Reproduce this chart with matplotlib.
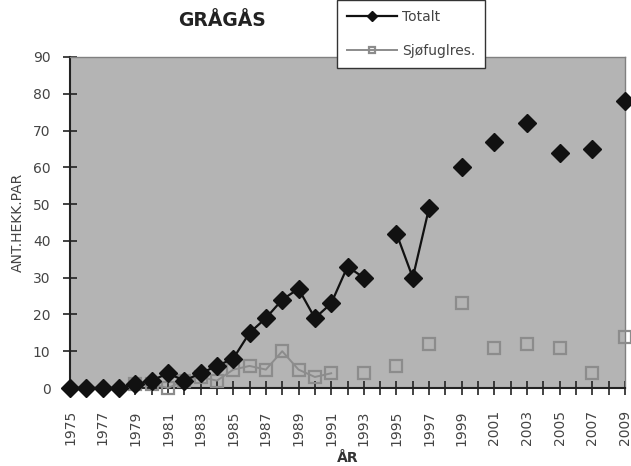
import numpy as np
import matplotlib
matplotlib.use("Agg")
import matplotlib.pyplot as plt
from matplotlib.ticker import MultipleLocator

plt.rcParams['font.family'] = ['DejaVu Sans']

nan = np.nan
years = list(range(1975, 2010))
totalt = [0, 0, 0, 0, 1, 2, 4, 2, 4, 6, 8, 15, 19, 24, 27, 19, 23, 33, 30, nan,
          42, 30, 49, nan, 60, nan, 67, nan, 72, nan, 64, nan, 65, nan, 78]
sjofugl = [nan, nan, nan, nan, 1, 1, 0, 2, 3, 2, 5, 6, 5, 10, 5, 3, 4, nan, 4, nan,
           6, nan, 12, nan, 23, nan, 11, nan, 12, nan, 11, nan, 4, nan, 14]

fig = plt.figure(figsize=(6.31, 4.66), dpi=100)
ax = fig.add_axes([70/631, 1-388/466, 555/631, 331/466])
ax.set_facecolor('#b4b4b4')

l1, = ax.plot(years, totalt, color='#111111', lw=1.6, marker='D', ms=9.5,
              mfc='#111111', mec='#111111', clip_on=False, zorder=4, label='Totalt')
l2, = ax.plot(years, sjofugl, color='#8c8c8c', lw=1.4, marker='s', ms=9,
              mfc='none', mec='#8c8c8c', mew=1.6, clip_on=False, zorder=3, label='Sjøfuglres.')

ax.set_xlim(1975, 2009)
ax.set_ylim(0, 90)
ax.set_xticks(range(1975, 2010))
ax.set_xticklabels([str(y) if (y - 1975) % 2 == 0 else '' for y in range(1975, 2010)],
                   rotation=90)
ax.set_yticks(range(0, 100, 10))
ax.tick_params(axis='both', direction='inout', length=10, width=1.2,
               color='#222222', labelcolor='#444444', labelsize=10)
ax.tick_params(axis='x', pad=11)
ax.tick_params(axis='y', pad=9)

for s in ['left', 'bottom']:
    ax.spines[s].set_color('#222222')
    ax.spines[s].set_linewidth(1.5)
for s in ['top', 'right']:
    ax.spines[s].set_color('#808080')
    ax.spines[s].set_linewidth(1.0)

ax.set_ylabel('ANT.HEKK.PAR', fontsize=10, color='#444444', labelpad=6)
ax.set_xlabel('ÅR', fontsize=10, fontweight='bold', color='#333333', labelpad=4)

fig.text(222/631, 1-21/466, 'GRÅGÅS', fontsize=13.5, fontweight='bold',
         ha='center', va='center', color='#222222')

leg = fig.legend(handles=[l1, l2], loc='lower left',
                 bbox_to_anchor=(337/631, 1-68/466), fontsize=10, markerscale=0.5,
                 frameon=True, fancybox=False, edgecolor='#333333', framealpha=1,
                 borderpad=0.7, labelspacing=1.45, handlelength=3.6, handletextpad=0.4,
                 borderaxespad=0)
leg.get_frame().set_linewidth(1.0)
for t in leg.get_texts():
    t.set_color('#444444')

fig.savefig('out.png', dpi=100)
